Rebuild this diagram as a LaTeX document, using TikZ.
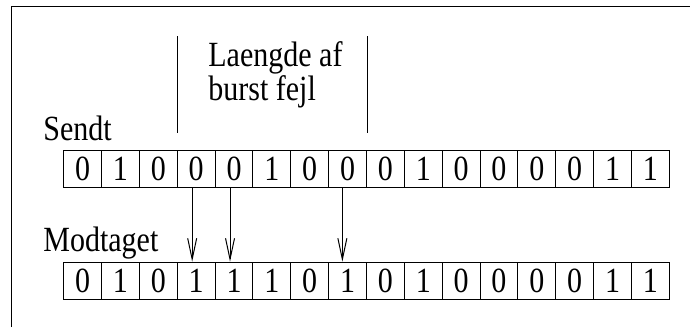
\documentclass[tikz,border=0pt]{standalone}
\usepackage{fontspec}
\usepackage{graphicx}
\setmainfont{Liberation Serif}
\usetikzlibrary{arrows.meta}
\newcommand{\tallt}[1]{\scalebox{1}[1.18]{#1}}
\begin{document}
\begin{tikzpicture}[x=0.5pt,y=-0.5pt,
  font=\fontsize{15}{17}\selectfont,
  cell/.style={draw,line width=0.5pt,minimum width=18.93pt,minimum height=18.85pt,inner sep=0pt},
  lbl/.style={inner sep=0pt,anchor=west},
  bitarrow/.style={line width=0.5pt,-{Straight Barb[length=10.5pt,width=4.5pt,line width=0.5pt]}},
  frame/.style={line width=0.7pt},
  marker/.style={line width=0.5pt}]
\useasboundingbox (0,0) rectangle (690,327);
\draw[frame] (11.5,327) -- (11.5,6.5) -- (690,6.5);
% texts
\node[lbl] (sendt) at (43,128) {\tallt{Sendt}};
\node[lbl] (modt) at (43,243) {\tallt{Modtaget}};
\node[lbl] (l1) at (208,58) {\tallt{Laengde af}};
\node[lbl] (l2) at (208,92) {\tallt{burst fejl}};
% marker lines
\coordinate (v1a) at (177.7,36);
\coordinate (v1b) at (177.7,133);
\coordinate (v2a) at (367.3,36);
\coordinate (v2b) at (367.3,133);
\draw[marker] (v1a) -- (v1b);
\draw[marker] (v2a) -- (v2b);
% rows
\foreach \b [count=\i from 0] in {0,1,0,0,0,1,0,0,0,1,0,0,0,0,1,1}
  \node[cell] (s\i) at ({63.7+37.85*(\i+0.5)},168.85) {\tallt{\b}};
\foreach \b [count=\i from 0] in {0,1,0,1,1,1,0,1,0,1,0,0,0,0,1,1}
  \node[cell] (m\i) at ({63.7+37.85*(\i+0.5)},281) {\tallt{\b}};
% arrows
\draw[bitarrow] ([xshift=-2pt]s3.south) -- ([xshift=-2pt]m3.north);
\draw[bitarrow] ([xshift=-2pt]s4.south) -- ([xshift=-2pt]m4.north);
\draw[bitarrow] ([xshift=-2.6pt]s7.south) -- ([xshift=-2.6pt]m7.north);
\end{tikzpicture}
\end{document}
